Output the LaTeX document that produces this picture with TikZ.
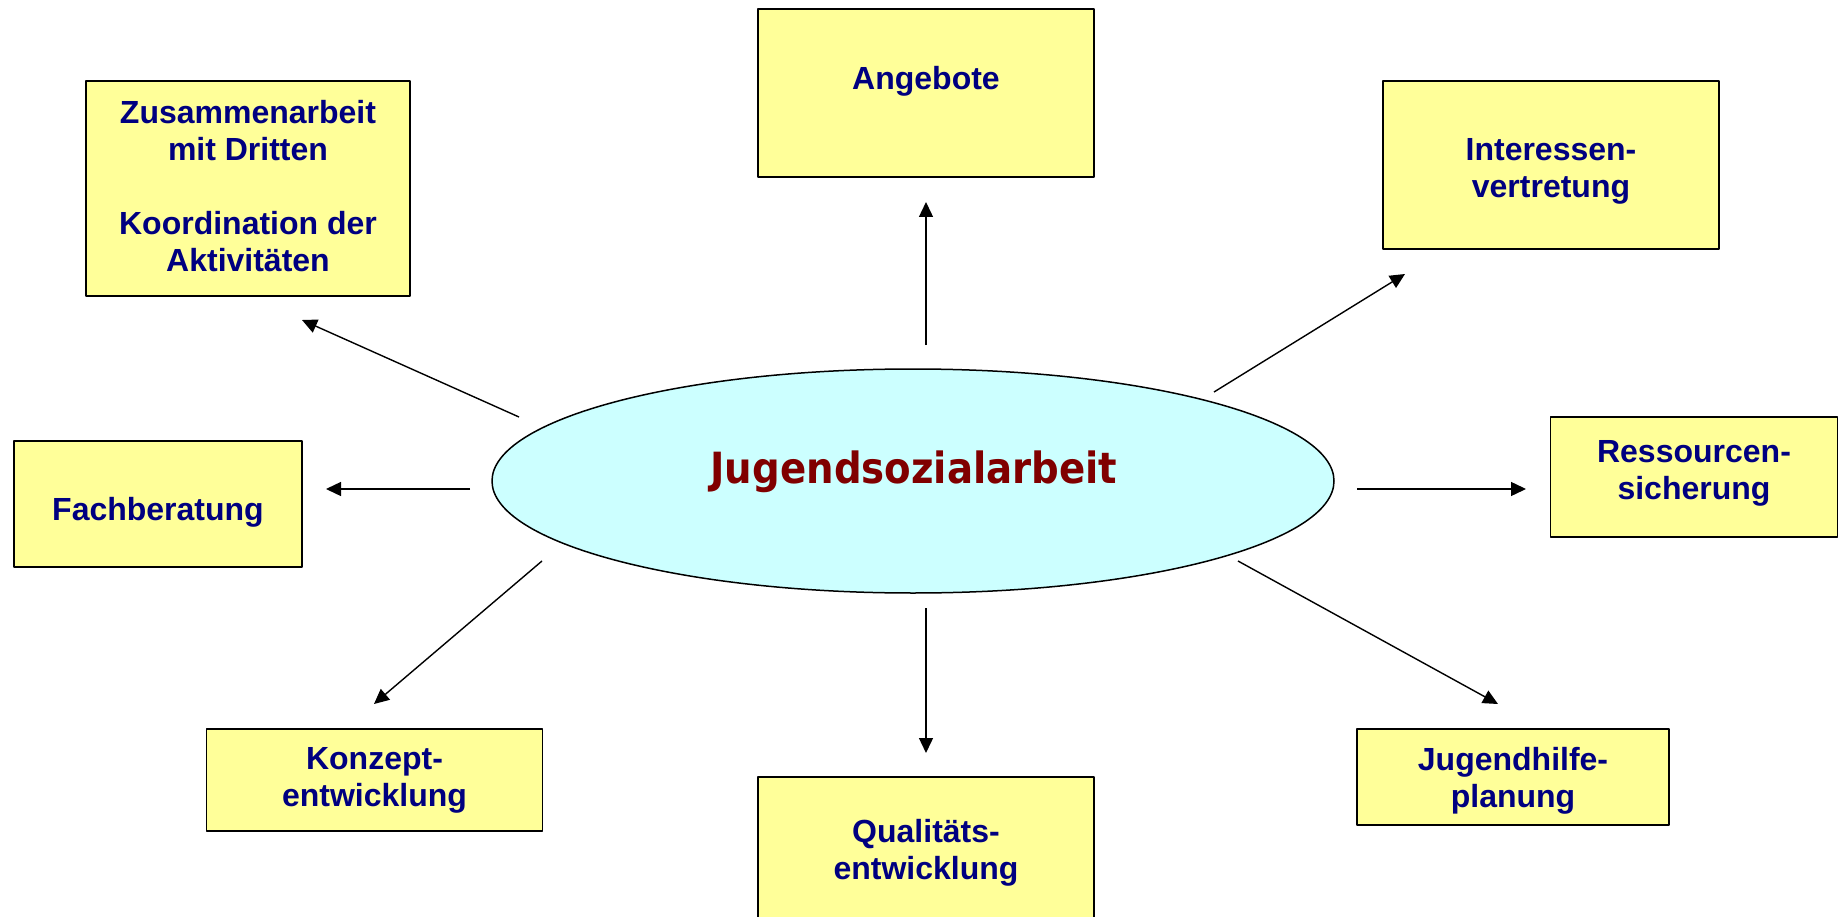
\documentclass[tikz,border=0pt]{standalone}
\usepackage{fontspec}
\setmainfont{Liberation Sans}
\newfontfamily\titelfont[FakeStretch=0.9]{DejaVu Sans}
\usetikzlibrary{arrows.meta,shapes.geometric}
\definecolor{feldgelb}{HTML}{FFFF99}
\definecolor{ellblau}{HTML}{CCFFFF}
\definecolor{textblau}{HTML}{000080}
\definecolor{titelrot}{HTML}{800000}
\tikzset{
	feld/.style={draw=black,line width=1.5pt,fill=feldgelb,inner sep=0pt,
		align=center,text=textblau,font=\fontsize{32}{37}\selectfont\bfseries},
	pfeil/.style={->,line width=1.4pt}
}
\begin{document}
\begin{tikzpicture}[x=1pt,y=-1pt,line
	join=round,>={Triangle[length=15pt,width=14pt]}]
	\useasboundingbox (0,0) rectangle (1841,917);
	% Mitte
	\node[ellipse,draw,line width=1.5pt,fill=ellblau,minimum width=842,
		minimum height=224] (ell) at (913,481) {};
	\node[text=titelrot,font=\titelfont\fontsize{43}{50}\selectfont\bfseries]
		(titel) at (914,472) {Jugendsozialarbeit};
	% Felder
	\node[feld,minimum width=324,minimum height=215,text height=166pt,
		text depth=0pt] (zus) at (248,188.5)
		{Zusammenarbeit\\mit Dritten\\[37pt]Koordination der\\Aktivitäten};
	\node[feld,minimum width=336,minimum height=168,text height=23pt,
		text depth=30pt] (ang) at (926,93) {Angebote};
	\node[feld,minimum width=336,minimum height=168,text height=72pt,
		text depth=7pt] (int) at (1551,165) {Interessen-\\vertretung};
	\node[feld,minimum width=288,minimum height=126,text height=38pt,
		text depth=6pt] (fach) at (158,504) {Fachberatung};
	\node[feld,minimum width=287,minimum height=120,text height=52pt,
		text depth=7pt] (res) at (1694,477) {Ressourcen-\\sicherung};
	\node[feld,minimum width=336,minimum height=102] (konz) at (374.5,780)
		{Konzept-\\entwicklung};
	\node[feld,minimum width=336,minimum height=152] (qual) at (926,853)
		{Qualitäts-\\entwicklung};
	\node[feld,minimum width=312,minimum height=96,text height=67pt,
		text depth=7pt] (jug) at (1513,777) {Jugendhilfe-\\planung};
	% Pfeile
	\path (926,345) coordinate (a-ang) (926,202) coordinate (e-ang)
		(519,417) coordinate (a-zus) (302,320) coordinate (e-zus)
		(1214,392) coordinate (a-int) (1405,274) coordinate (e-int)
		(470,489) coordinate (a-fach) (326,489) coordinate (e-fach)
		(1357,489) coordinate (a-res) (1526,489) coordinate (e-res)
		(542,561) coordinate (a-konz) (374,704) coordinate (e-konz)
		(926,608) coordinate (a-qual) (926,753) coordinate (e-qual)
		(1238,561) coordinate (a-jug) (1498,704) coordinate (e-jug);
	\foreach \n in {ang,zus,int,fach,res,konz,qual,jug}
		\draw[pfeil] (a-\n) -- (e-\n);
\end{tikzpicture}
\end{document}
